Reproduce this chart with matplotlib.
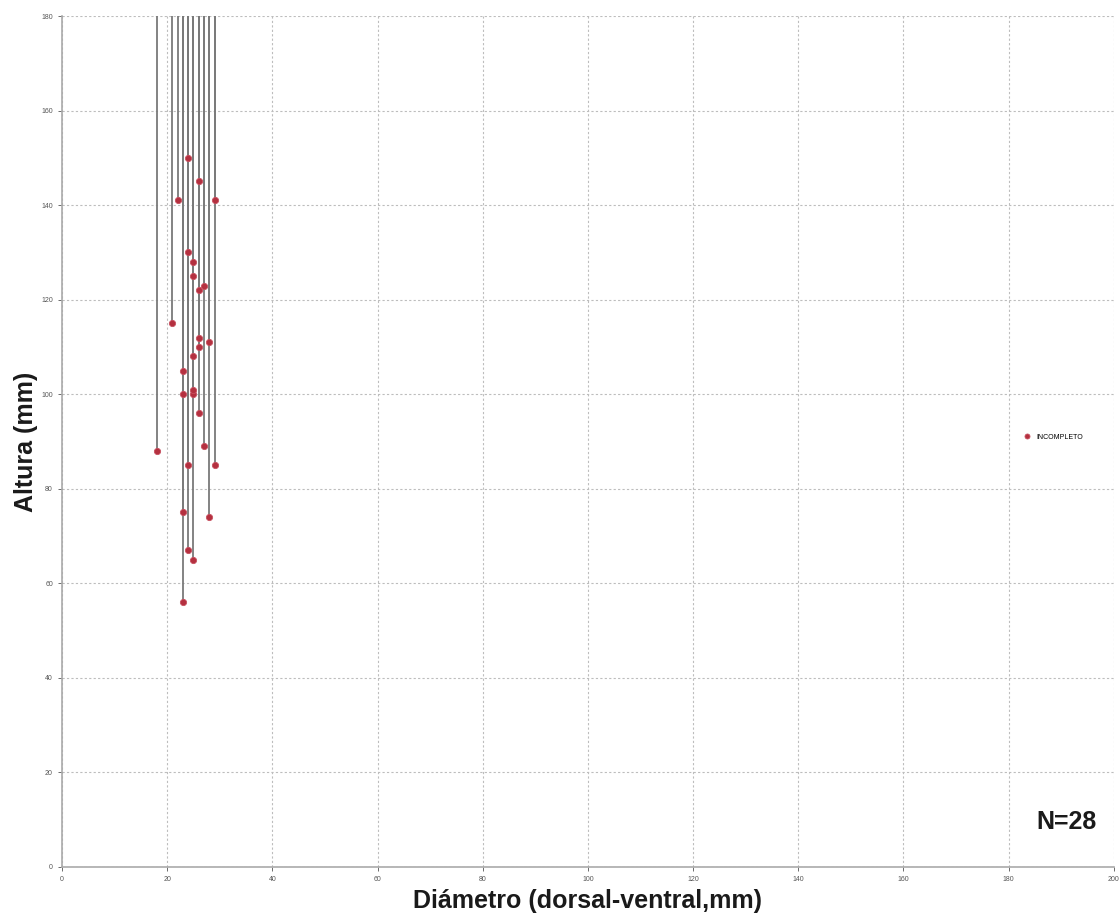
import matplotlib
matplotlib.use("Agg")
import matplotlib.pyplot as plt

# Data: diameter (dorsal-ventral, mm) and height (mm)
diametro = [18, 21, 22, 23, 23, 23, 23, 24, 24, 24, 24, 25, 25, 25, 25, 25, 25,
            26, 26, 26, 26, 26, 27, 27, 28, 28, 29, 29]
altura = [88, 115, 141, 105, 100, 75, 56, 150, 130, 85, 67, 128, 125, 108, 100, 101, 65,
          145, 122, 112, 110, 96, 123, 89, 111, 74, 141, 85]
serie_label = "INCOMPLETO"
x_ticks = [0, 20, 40, 60, 80, 100, 120, 140, 160, 180, 200]
y_ticks = [0, 20, 40, 60, 80, 100, 120, 140, 160, 180]

plt.rcParams['font.family'] = ['Liberation Sans', 'DejaVu Sans']

fig = plt.figure(figsize=(11.19, 9.16), dpi=100)
ax = fig.add_axes([0.0554, 0.0535, 0.94, 0.929])
ax.set_xlim(0, 200)
ax.set_ylim(0, 180)

# vertical lines from each point up to the top
ax.vlines(diametro, altura, 180, colors='#7a7a7a', linewidth=1.3, zorder=2)
ax.plot(diametro, altura, linestyle='none', marker='o', markersize=4.5,
        markerfacecolor='#b4303f', markeredgecolor='#c85060', markeredgewidth=0.6,
        zorder=3, label=serie_label)

ax.set_xticks(x_ticks)
ax.set_yticks(y_ticks)
ax.tick_params(labelsize=5, colors='#555555', length=3, width=0.6)
ax.grid(True, linestyle=(0, (2, 2)), color='#bdbdbd', linewidth=0.8)
for s in ['top', 'right']:
    ax.spines[s].set_visible(False)
for s in ['left', 'bottom']:
    ax.spines[s].set_color('#aaaaaa')
    ax.spines[s].set_linewidth(1.2)

ax.set_xlabel("Diámetro (dorsal-ventral,mm)", fontsize=18, fontweight='bold',
              color='#1a1a1a', labelpad=4)
ax.set_ylabel("Altura (mm)", fontsize=18, fontweight='bold',
              color='#1a1a1a', labelpad=2.5)

leg = ax.legend(loc='center left', bbox_to_anchor=(0.905, 0.505), frameon=False,
                fontsize=5, handletextpad=0.3, markerscale=0.8)

ax.text(0.955, 0.053, "N=28", transform=ax.transAxes, fontsize=18,
        fontweight='bold', color='#1a1a1a', ha='center', va='center')

fig.savefig("out.png", dpi=100)
